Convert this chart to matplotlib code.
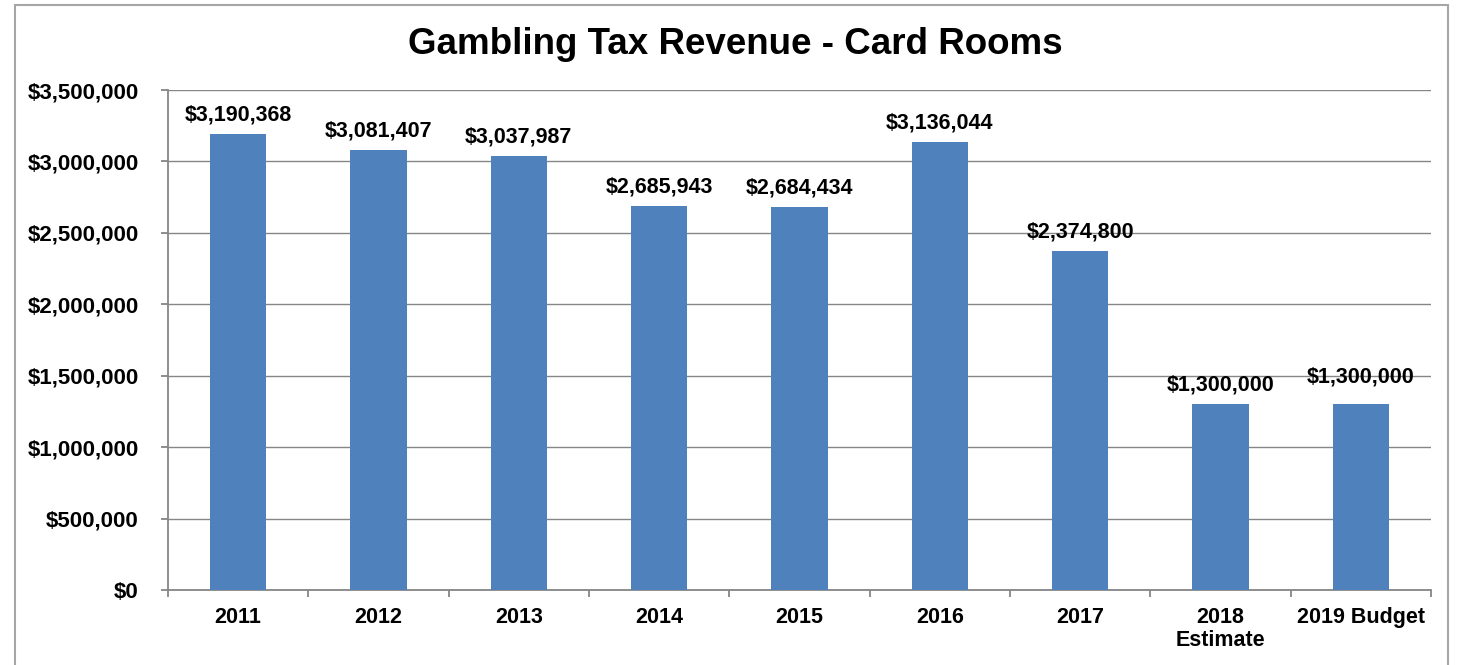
import matplotlib
matplotlib.use("Agg")
import matplotlib.pyplot as plt
from matplotlib.patches import Rectangle
from matplotlib.ticker import FuncFormatter, FixedLocator

categories = ["2011", "2012", "2013", "2014", "2015", "2016", "2017", "2018\nEstimate", "2019 Budget"]
revenue = [3190368, 3081407, 3037987, 2685943, 2684434, 3136044, 2374800, 1300000, 1300000]
yticks = [0, 500000, 1000000, 1500000, 2000000, 2500000, 3000000, 3500000]
title = "Gambling Tax Revenue - Card Rooms"

plt.rcParams['font.family'] = ['Liberation Sans', 'DejaVu Sans']

fig = plt.figure(figsize=(14.58, 6.65), dpi=100)
ax = fig.add_axes([168/1458, 1-590/665, (1431-168)/1458, (590-90)/665])

x = list(range(len(categories)))
bars = ax.bar(x, revenue, width=0.4, color="#4F81BD", zorder=3)

label_extra = [0, 0, 0, 0, 0, 0, 0, 0, 6]
for xi, v, e in zip(x, revenue, label_extra):
    ax.annotate(f"${v:,.0f}", xy=(xi, v), xytext=(0, 6 + e), textcoords="offset points",
                ha="center", va="bottom", fontsize=15.5, fontweight="bold", color="black")

ax.set_xlim(-0.5, len(categories) - 0.5)
ax.set_ylim(0, 3500000)
ax.set_yticks(yticks)
ax.yaxis.set_major_formatter(FuncFormatter(lambda v, p: f"${v:,.0f}"))
ax.set_xticks(x)
ax.set_xticklabels(categories, linespacing=1.15)
ax.xaxis.set_minor_locator(FixedLocator([i - 0.5 for i in range(len(categories) + 1)]))

grey = "#868686"
ax.grid(axis="y", color=grey, linewidth=1.0, zorder=0)
ax.set_axisbelow(True)
for s in ["top", "right"]:
    ax.spines[s].set_visible(False)
for s in ["left", "bottom"]:
    ax.spines[s].set_color(grey)
    ax.spines[s].set_linewidth(1.3)

ax.tick_params(axis="x", which="major", length=0, pad=12, labelsize=15.5)
ax.tick_params(axis="x", which="minor", length=5, color=grey, width=1.3, direction="out")
ax.tick_params(axis="y", which="major", length=5, color=grey, width=1.3, pad=16, labelsize=16)
for lab in ax.get_xticklabels() + ax.get_yticklabels():
    lab.set_fontweight("bold")

fig.text(735/1458, 1-45/665, title, ha="center", va="center", fontsize=26.5, fontweight="bold")

fig.patches.append(Rectangle((15/1458, -0.05), (1448-15)/1458, 1.05 - 5/665,
                             transform=fig.transFigure, fill=False, edgecolor="#A6A6A6",
                             linewidth=1.5))

fig.savefig("out.png", dpi=100)
